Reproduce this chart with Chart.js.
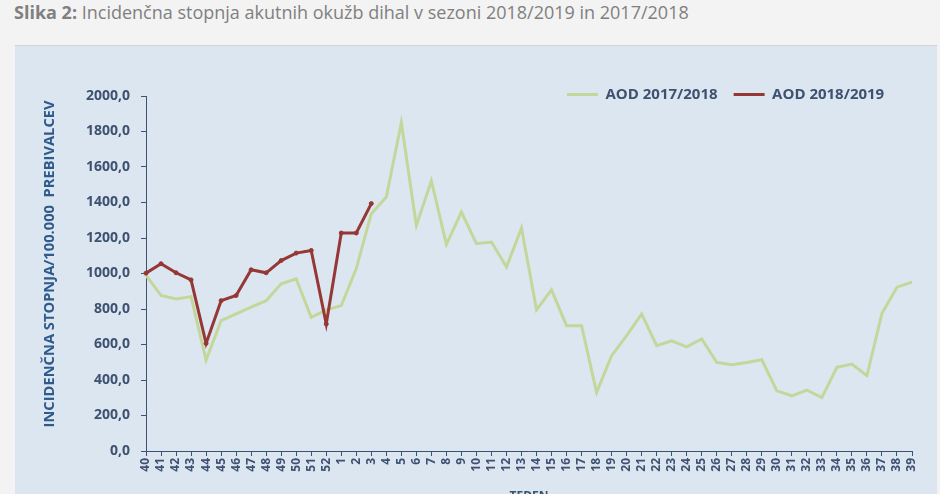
<!DOCTYPE html>
<html>
<head>
<meta charset="utf-8">
<script src="https://cdn.jsdelivr.net/npm/chart.js@4"></script>
<style>
  html, body { margin: 0; padding: 0; background: #f3f3f3; overflow: hidden; }
  body { width: 940px; height: 494px; position: relative; font-family: "Open Sans", sans-serif; }
  #title { position: absolute; left: 14px; top: 0px; font-size: 18px; color: #808080; white-space: nowrap; }
  #title b { font-weight: 700; }
  #panel { position: absolute; left: 15px; top: 45px; width: 922px; height: 470px;
           background: #dce6f1; border-top: 1px solid #d3d3d3; }
</style>
</head>
<body>
<div id="title"><b>Slika 2:</b> Incidenčna stopnja akutnih okužb dihal v sezoni 2018/2019 in 2017/2018</div>
<div id="panel"><canvas id="chart" width="922" height="470"></canvas></div>
<script>
// weeks: season runs from week 40 to week 39 of the next year
const weeks = ['40','41','42','43','44','45','46','47','48','49','50','51','52',
  '1','2','3','4','5','6','7','8','9','10','11','12','13','14','15','16','17','18','19',
  '20','21','22','23','24','25','26','27','28','29','30','31','32','33','34','35','36','37','38','39'];

const aod1718 = [990, 876, 857, 870, 512, 734, 772, 810, 847, 942, 970, 753, 795,
  819, 1028, 1337, 1431, 1849, 1271, 1522, 1164, 1346, 1168, 1177, 1036, 1256, 795, 908, 706, 706, 330, 537,
  650, 772, 593, 621, 587, 631, 499, 486, 499, 514, 339, 311, 343, 301, 471, 490, 424, 776, 923, 951];

const aod1819 = [1002, 1055, 1004, 964, 606, 847, 876, 1021, 1004, 1073, 1115, 1130, 716,
  1228, 1228, 1394];

const yTicks = [0, 200, 400, 600, 800, 1000, 1200, 1400, 1600, 1800, 2000];

const axisColor = '#3d5170';
const tickFont = { family: 'Open Sans', size: 12, weight: 'bold' };

// legend sits above the plot on the right, level with the 2000 tick
const legendMove = {
  id: 'legendMove',
  afterUpdate(chart) {
    const lg = chart.legend;
    if (!lg) return;
    const pad = lg.options.labels.padding;
    const left = 552 - pad, top = 25;
    const dx = left - lg.left, dy = top - lg.top;
    lg.left += dx; lg.right = 922;
    lg.top += dy; lg.bottom += dy;
    lg.width = lg.right - lg.left;
    (lg.legendHitBoxes || []).forEach(b => { b.left += dx; b.top += dy; });
  }
};

new Chart(document.getElementById('chart'), {
  type: 'line',
  data: {
    labels: weeks,
    datasets: [
      {
        label: 'AOD 2017/2018',
        data: aod1718,
        borderColor: '#c4d79b',
        backgroundColor: '#c4d79b',
        borderWidth: 3,
        pointRadius: 0,
        tension: 0,
        order: 1
      },
      {
        label: 'AOD 2018/2019',
        data: aod1819,
        borderColor: '#953735',
        backgroundColor: '#953735',
        borderWidth: 3,
        pointRadius: 2,
        pointBorderWidth: 1,
        pointBackgroundColor: '#953735',
        tension: 0,
        order: 0
      }
    ]
  },
  options: {
    responsive: false,
    animation: false,
    layout: { padding: { left: 26, right: 25, top: 9, bottom: 12 } },
    plugins: {
      tooltip: { enabled: false },
      legend: {
        position: 'top',
        align: 'start',
        labels: {
          usePointStyle: true,
          pointStyle: 'line',
          pointStyleWidth: 31,
          padding: 16,
          color: axisColor,
          font: { family: 'Open Sans', size: 15, weight: 'bold' },
          sort: (a, b) => a.datasetIndex - b.datasetIndex,
          generateLabels: chart =>
            Chart.defaults.plugins.legend.labels.generateLabels(chart).map(item => {
              const ds = chart.data.datasets[item.datasetIndex];
              return Object.assign(item, { lineWidth: 3, strokeStyle: ds.borderColor, fillStyle: ds.borderColor });
            })
        }
      }
    },
    scales: {
      x: {
        grid: { display: true, drawOnChartArea: false, drawTicks: true, tickLength: 5, color: axisColor },
        border: { display: true, color: axisColor, width: 1 },
        ticks: {
          autoSkip: false, minRotation: 90, maxRotation: 90,
          color: axisColor, font: tickFont, padding: 2
        },
        title: {
          display: true, text: 'TEDEN', color: axisColor,
          font: { family: 'Open Sans', size: 12, weight: 'bold' },
          padding: { top: 4, bottom: 0 }
        },
        afterFit(scale) { scale.height = 53; }
      },
      y: {
        min: 0, max: 2000,
        afterBuildTicks(scale) { scale.ticks = yTicks.map(v => ({ value: v })); },
        grid: { display: true, drawOnChartArea: false, drawTicks: true, tickLength: 5, color: axisColor },
        border: { display: true, color: axisColor, width: 1 },
        ticks: {
          color: axisColor, font: { family: 'Open Sans', size: 14, weight: 'bold' }, padding: 11,
          callback: v => v.toFixed(1).replace('.', ',')
        },
        title: {
          display: true, text: '     INCIDENČNA STOPNJA/100.000  PREBIVALCEV', color: '#2e5a8c',
          font: { family: 'Open Sans', size: 14.7, weight: 'bold' },
          padding: 0
        },
        afterFit(scale) { scale.width = 105; }
      }
    }
  },
  plugins: [legendMove]
});
</script>
</body>
</html>
